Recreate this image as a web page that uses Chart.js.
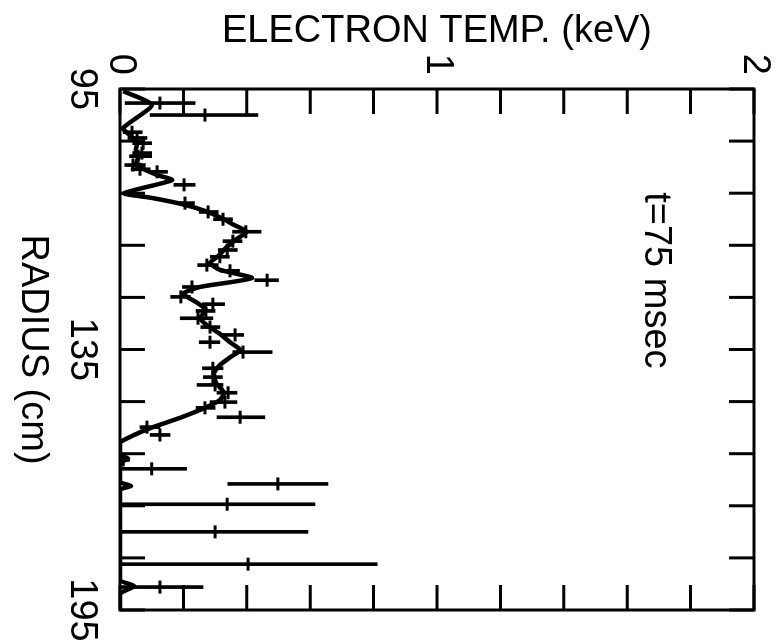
<!DOCTYPE html>
<html lang="en">
  <head>
    <meta charset="UTF-8" />
    <meta name="viewport" content="width=device-width, initial-scale=1.0" />
    <script src="https://cdn.jsdelivr.net/npm/chart.js@4.4.1/dist/chart.umd.min.js"></script>
    <title>Electron temperature profile</title>
    <style>
      body {
        margin: 0;
        background: #fff;
        overflow: hidden;
      }
      /* plot is laid out upright, then turned a quarter turn clockwise */
      #wrap {
        position: absolute;
        left: 0;
        top: 0;
        width: 641px;
        height: 779px;
        transform-origin: 0 0;
        transform: translate(779px, 0) rotate(90deg);
      }
    </style>
  </head>
  <body>
    <div id="wrap"><canvas id="profile" width="641" height="779"></canvas></div>
    <script>
      // smoothed profile: radius (cm) and electron temperature (keV)
      const curveRadius = [95.4, 98.1, 102.5, 103.8, 105.2, 106.7, 108.2, 109.6, 110.5, 111.5, 112.5, 115.0, 115.9, 117.1, 118.4, 119.8, 121.1, 122.4, 124.0, 125.5, 127.1, 128.4, 129.7, 131.3, 133.0, 134.3, 135.9, 137.4, 139.0, 140.5, 142.0, 143.6, 145.1, 146.4, 148.0, 149.5, 151.4, 153.3, 154.7, 156.2, 158.1, 160.1, 161.6, 162.9, 165.2, 165.9, 166.8, 170.4, 171.2, 172.0, 189.2, 190.4, 191.9, 195.0];
      const curveTemp = [0.01, 0.10, 0.01, 0.03, 0.054, 0.05, 0.057, 0.05, 0.079, 0.117, 0.164, 0.013, 0.10, 0.196, 0.268, 0.322, 0.36, 0.40, 0.363, 0.334, 0.309, 0.284, 0.315, 0.416, 0.252, 0.199, 0.24, 0.271, 0.252, 0.278, 0.315, 0.347, 0.379, 0.35, 0.315, 0.297, 0.303, 0.328, 0.315, 0.268, 0.19, 0.095, 0.038, 0, 0, 0.025, 0, 0, 0.035, 0, 0, 0.045, 0, 0];

      // measured channels with error bar ends
      const measRadius = [97.7, 100.0, 103.3, 104.4, 105.4, 107.3, 107.9, 109.6, 110.4, 110.9, 113.4, 116.9, 118.6, 120.0, 122.4, 124.2, 125.9, 127.2, 128.8, 129.9, 131.7, 133.0, 134.9, 136.3, 137.6, 139.0, 140.7, 142.2, 143.6, 145.5, 148.6, 150.3, 151.8, 153.3, 155.1, 156.2, 158.0, 159.9, 161.4, 166.2, 167.9, 170.8, 174.7, 180.0, 186.2, 190.6];
      const measTemp = [0.126, 0.268, 0.038, 0.054, 0.073, 0.069, 0.057, 0.041, 0.063, 0.117, 0.202, 0.205, 0.278, 0.325, 0.397, 0.356, 0.338, 0.315, 0.274, 0.347, 0.464, 0.227, 0.192, 0.293, 0.271, 0.246, 0.284, 0.363, 0.284, 0.388, 0.293, 0.293, 0.30, 0.341, 0.331, 0.268, 0.379, 0.085, 0.126, 0.01, 0.10, 0.498, 0.338, 0.30, 0.404, 0.126];
      const measLow = [0.016, 0.095, 0.01, 0.025, 0.04, 0.04, 0.03, 0.015, 0.035, 0.09, 0.17, 0.175, 0.25, 0.295, 0.355, 0.325, 0.31, 0.285, 0.245, 0.317, 0.425, 0.197, 0.16, 0.26, 0.24, 0.19, 0.255, 0.325, 0.25, 0.356, 0.26, 0.263, 0.243, 0.306, 0.284, 0.24, 0.306, 0.063, 0.095, 0, 0, 0.34, 0, 0, 0, 0];
      const measHigh = [0.237, 0.435, 0.07, 0.085, 0.10, 0.10, 0.10, 0.08, 0.095, 0.15, 0.237, 0.235, 0.31, 0.355, 0.445, 0.385, 0.37, 0.345, 0.31, 0.377, 0.50, 0.257, 0.222, 0.33, 0.30, 0.293, 0.315, 0.39, 0.315, 0.48, 0.325, 0.323, 0.325, 0.369, 0.369, 0.30, 0.457, 0.126, 0.158, 0.03, 0.21, 0.656, 0.615, 0.593, 0.811, 0.262];

      const radiusTickLabels = ["95", "", "", "", "", "135", "", "", "", "", "195"];
      const tempTickLabels = ["0", "", "", "", "", "1", "", "", "", "", "2"];
      const noteText = "t=75 msec";

      const FONT = "'Liberation Sans', Arial, sans-serif";
      Chart.defaults.font.family = FONT;
      Chart.defaults.color = "#000";

      // box with inward tick marks on all four sides, plus the time note
      const frame = {
        id: "frame",
        beforeDatasetsDraw(chart) {
          const { ctx, chartArea: a, scales } = chart;
          const len = 25;
          ctx.save();
          ctx.strokeStyle = "#000";
          ctx.lineWidth = 3;
          ctx.strokeRect(a.left, a.top, a.right - a.left, a.bottom - a.top);
          ctx.beginPath();
          scales.x.ticks.forEach((t) => {
            const px = scales.x.getPixelForValue(t.value);
            ctx.moveTo(px, a.bottom);
            ctx.lineTo(px, a.bottom - len);
            ctx.moveTo(px, a.top);
            ctx.lineTo(px, a.top + len);
          });
          scales.y.ticks.forEach((t) => {
            const py = scales.y.getPixelForValue(t.value);
            ctx.moveTo(a.left, py);
            ctx.lineTo(a.left + len, py);
            ctx.moveTo(a.right, py);
            ctx.lineTo(a.right - len, py);
          });
          ctx.stroke();
          ctx.restore();
        },
        afterDatasetsDraw(chart) {
          const { ctx, scales } = chart;
          ctx.save();
          ctx.fillStyle = "#000";
          ctx.font = "38px " + FONT;
          ctx.textAlign = "left";
          ctx.textBaseline = "middle";
          ctx.fillText(noteText, scales.x.getPixelForValue(114.8), scales.y.getPixelForValue(1.69));
          ctx.restore();
        },
      };

      const curve = curveRadius.map((r, i) => ({ x: r, y: curveTemp[i] }));
      const points = measRadius.map((r, i) => ({ x: r, y: measTemp[i] }));
      const bars = measRadius.map((r, i) => ({ x: r, y: [measLow[i], measHigh[i]] }));

      new Chart(document.getElementById("profile"), {
        type: "scatter",
        data: {
          datasets: [
            {
              type: "bar",
              data: bars,
              backgroundColor: "#000",
              borderWidth: 0,
              barThickness: 3,
            },
            {
              data: points,
              pointStyle: "line",
              pointRadius: 6.5,
              pointBorderWidth: 3,
              pointBorderColor: "#000",
              showLine: false,
            },
            {
              type: "line",
              data: curve,
              borderColor: "#000",
              borderWidth: 4.5,
              pointRadius: 0,
              tension: 0.2,
              borderJoinStyle: "round",
              fill: false,
            },
          ],
        },
        options: {
          responsive: false,
          animation: false,
          layout: { padding: { top: 25, right: 31, left: 0, bottom: 0 } },
          plugins: { legend: { display: false }, tooltip: { enabled: false } },
          scales: {
            x: {
              type: "linear",
              position: "bottom",
              min: 95,
              max: 195,
              offset: false,
              grid: { display: false },
              border: { display: false },
              ticks: {
                stepSize: 10,
                autoSkip: false,
                maxRotation: 0,
                padding: 8,
                font: { size: 38 },
                callback: (v, i) => radiusTickLabels[i],
              },
              title: {
                display: true,
                text: "RADIUS (cm)",
                font: { size: 38 },
                padding: { top: 0, bottom: 10 },
              },
              afterFit: (s) => {
                s.height = 120;
                s.paddingLeft = 0;
                s.paddingRight = 0;
              },
            },
            y: {
              type: "linear",
              position: "left",
              min: 0,
              max: 2,
              grid: { display: false },
              border: { display: false },
              ticks: {
                stepSize: 0.2,
                autoSkip: false,
                padding: 6,
                font: { size: 38 },
                callback: (v, i) => tempTickLabels[i],
              },
              title: {
                display: true,
                text: "ELECTRON TEMP. (keV)",
                font: { size: 38 },
                padding: { top: 9, bottom: 0 },
              },
              afterFit: (s) => {
                s.width = 89;
                s.paddingTop = 0;
                s.paddingBottom = 0;
              },
            },
          },
        },
        plugins: [frame],
      });
    </script>
  </body>
</html>
